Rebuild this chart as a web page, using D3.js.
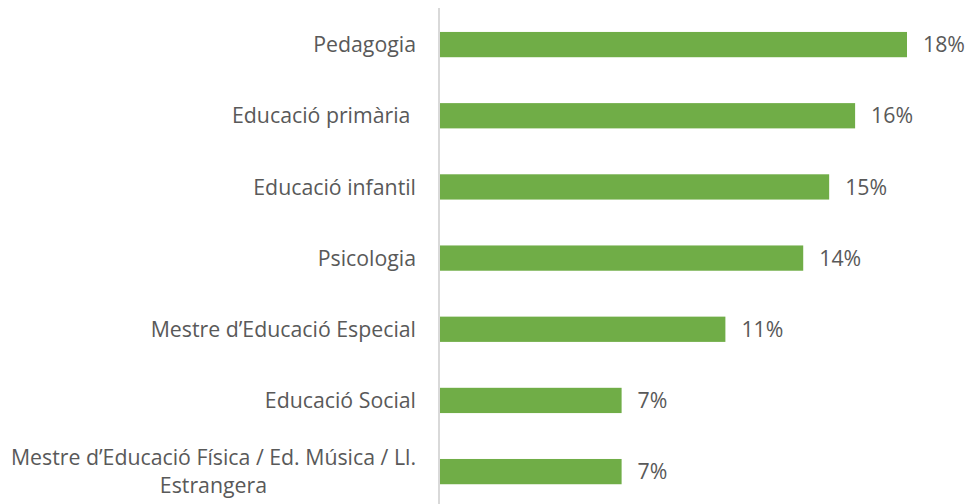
<!DOCTYPE html>
<html>
<head>
<meta charset="utf-8">
<script src="https://cdn.jsdelivr.net/npm/d3@7"></script>
<style>
  html, body { margin: 0; padding: 0; background: #fff; }
  svg text { font-family: "Open Sans", sans-serif; fill: #595959; }
</style>
</head>
<body>
<div id="chart"></div>
<script>
// categories from top to bottom
var categories = [
  "Pedagogia",
  "Educació primària ",
  "Educació infantil",
  "Psicologia",
  "Mestre d’Educació Especial",
  "Educació Social",
  "Mestre d’Educació Física / Ed. Música / Ll. Estrangera"
];
var values = [18, 16, 15, 14, 11, 7, 7];

var width = 966, height = 504;
var axisX = 440, plotTop = 9;
var fontSize = 21.3;

var data = categories.map(function (c, i) { return { cat: c, val: values[i] }; });

var svg = d3.select("#chart").append("svg")
  .attr("width", width)
  .attr("height", height);

var x = d3.scaleLinear().domain([0, 18]).range([axisX, 907]);
var y = d3.scaleBand()
  .domain(categories)
  .range([plotTop, plotTop + 7 * 71.17])
  .paddingInner(0.645)
  .paddingOuter(0.3225);

// bars
svg.selectAll("rect.bar")
  .data(data)
  .enter()
  .append("rect")
    .attr("class", "bar")
    .attr("x", x(0))
    .attr("y", function (d) { return y(d.cat); })
    .attr("width", function (d) { return x(d.val) - x(0); })
    .attr("height", y.bandwidth())
    .style("fill", "#70AD47");

// vertical axis line
svg.append("line")
  .attr("x1", axisX - 1).attr("x2", axisX - 1)
  .attr("y1", plotTop - 1).attr("y2", height)
  .style("stroke", "#d9d9d9")
  .style("stroke-width", 2);

// value labels
svg.selectAll("text.val")
  .data(data)
  .enter()
  .append("text")
    .attr("class", "val")
    .attr("x", function (d) { return x(d.val) + 16; })
    .attr("y", function (d) { return y(d.cat) + y.bandwidth() / 2; })
    .attr("dy", "0.36em")
    .style("font-size", fontSize + "px")
    .text(function (d) { return d.val + "%"; });

// category labels, wrapped and centred like Excel does
var labelRight = 416, maxWidth = 412, lineHeight = 27.7;
var measure = svg.append("text").style("font-size", fontSize + "px");
function textWidth(s) { measure.text(s); return measure.node().getComputedTextLength(); }

data.forEach(function (d) {
  var words = d.cat.split(" "), lines = [], line = "";
  words.forEach(function (w) {
    var test = line ? line + " " + w : w;
    if (line && textWidth(test) > maxWidth) { lines.push(line); line = w; }
    else line = test;
  });
  lines.push(line);
  var w = d3.max(lines, textWidth);
  var cy = y(d.cat) + y.bandwidth() / 2 - (lines.length - 1) * lineHeight / 2;
  var t = svg.append("text")
    .attr("text-anchor", lines.length > 1 ? "middle" : "end")
    .attr("x", lines.length > 1 ? labelRight - w / 2 : labelRight)
    .style("font-size", fontSize + "px")
    .style("white-space", "pre");
  lines.forEach(function (l, i) {
    t.append("tspan")
      .attr("x", lines.length > 1 ? labelRight - w / 2 : labelRight)
      .attr("y", cy + i * lineHeight)
      .attr("dy", "0.36em")
      .text(l);
  });
});
measure.remove();
</script>
</body>
</html>
